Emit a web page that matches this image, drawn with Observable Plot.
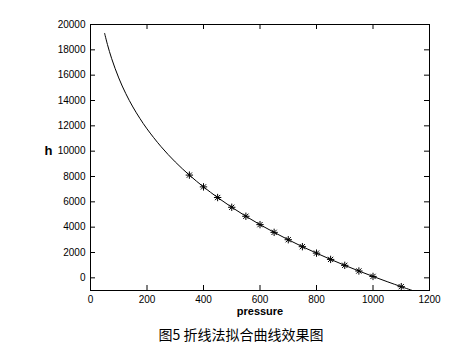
<!DOCTYPE html>
<html>
<head>
<meta charset="utf-8">
<script src="https://cdn.jsdelivr.net/npm/d3@7"></script>
<script src="https://cdn.jsdelivr.net/npm/@observablehq/plot@0.6"></script>
<style>
  html, body { margin: 0; padding: 0; background: #fff; }
  #chart { width: 458px; }
  #caption { width: 458px; text-align: center; font-family: "Noto Sans CJK SC", sans-serif; font-size: 14px; color: #000; line-height: 18px; margin-left: 12px; padding-top: 5px; }
</style>
</head>
<body>
<div id="chart"></div>
<div id="caption">图5 折线法拟合曲线效果图</div>
<script>
// fitted curve (pressure, h)
const curvePressure = [50, 60, 75, 100, 125, 150, 175, 200, 250, 300, 350, 400, 450, 500, 550, 600, 650, 700, 750, 800, 850, 900, 950, 1000, 1050, 1100, 1140];
const curveH = [19300, 18420, 17300, 15780, 14540, 13490, 12580, 11760, 10350, 9150, 8110, 7180, 6340, 5570, 4860, 4200, 3590, 3010, 2460, 1950, 1455, 987, 540, 111, -301, -698, -1004];
// sample points (asterisks)
const markPressure = [350, 400, 450, 500, 550, 600, 650, 700, 750, 800, 850, 900, 950, 1000, 1100];
const markH = [8110, 7180, 6340, 5570, 4860, 4200, 3590, 3010, 2460, 1950, 1455, 987, 540, 111, -698];
// ticks
const xTicks = [0, 200, 400, 600, 800, 1000, 1200];
const yTicks = [0, 2000, 4000, 6000, 8000, 10000, 12000, 14000, 16000, 18000, 20000];

const curve = curvePressure.map((p, i) => ({p, h: curveH[i]}));
const marks = markPressure.map((p, i) => ({p, h: markH[i]}));

const H = 320;
const mt = 24, mb = 30;
const fh = H - mt - mb;
const fw = 458 - 90 - 29;

const chart = Plot.plot({
  width: 458,
  height: H,
  marginLeft: 90,
  marginRight: 29,
  marginTop: mt,
  marginBottom: mb,
  style: {fontFamily: "Liberation Sans, Arial, sans-serif", fontSize: "10px", color: "#000", background: "#fff"},
  x: {domain: [0, 1200]},
  y: {domain: [-1000, 20000]},
  marks: [
    Plot.axisX({ticks: xTicks, tickSize: 0, tickPadding: 5, label: null, tickFormat: d => String(d)}),
    Plot.axisY({ticks: yTicks, tickSize: 0, tickPadding: 5, label: null, tickFormat: d => String(d)}),
    Plot.tickX(xTicks, {x: d => d, stroke: "#000", insetTop: fh - 5}),
    Plot.tickX(xTicks, {x: d => d, stroke: "#000", insetBottom: fh - 5}),
    Plot.tickY(yTicks, {y: d => d, stroke: "#000", insetRight: fw - 5}),
    Plot.tickY(yTicks, {y: d => d, stroke: "#000", insetLeft: fw - 5}),
    Plot.line(curve, {x: "p", y: "h", stroke: "#000", strokeWidth: 1, curve: "catmull-rom", clip: true}),
    Plot.dot(marks, {x: "p", y: "h", symbol: "plus", r: 2.5, stroke: "#000", strokeWidth: 1}),
    Plot.dot(marks, {x: "p", y: "h", symbol: "times", r: 2.5, stroke: "#000", strokeWidth: 1}),
    Plot.frame({stroke: "#000", strokeWidth: 1}),
    Plot.text(["h"], {frameAnchor: "left", dx: -46, dy: -7, fontWeight: "bold", fontSize: 13, fill: "#000"}),
    Plot.text(["pressure"], {frameAnchor: "bottom", dy: 24, fontWeight: "bold", fontSize: 11, fill: "#000"})
  ]
});
document.getElementById("chart").appendChild(chart);
</script>
</body>
</html>
